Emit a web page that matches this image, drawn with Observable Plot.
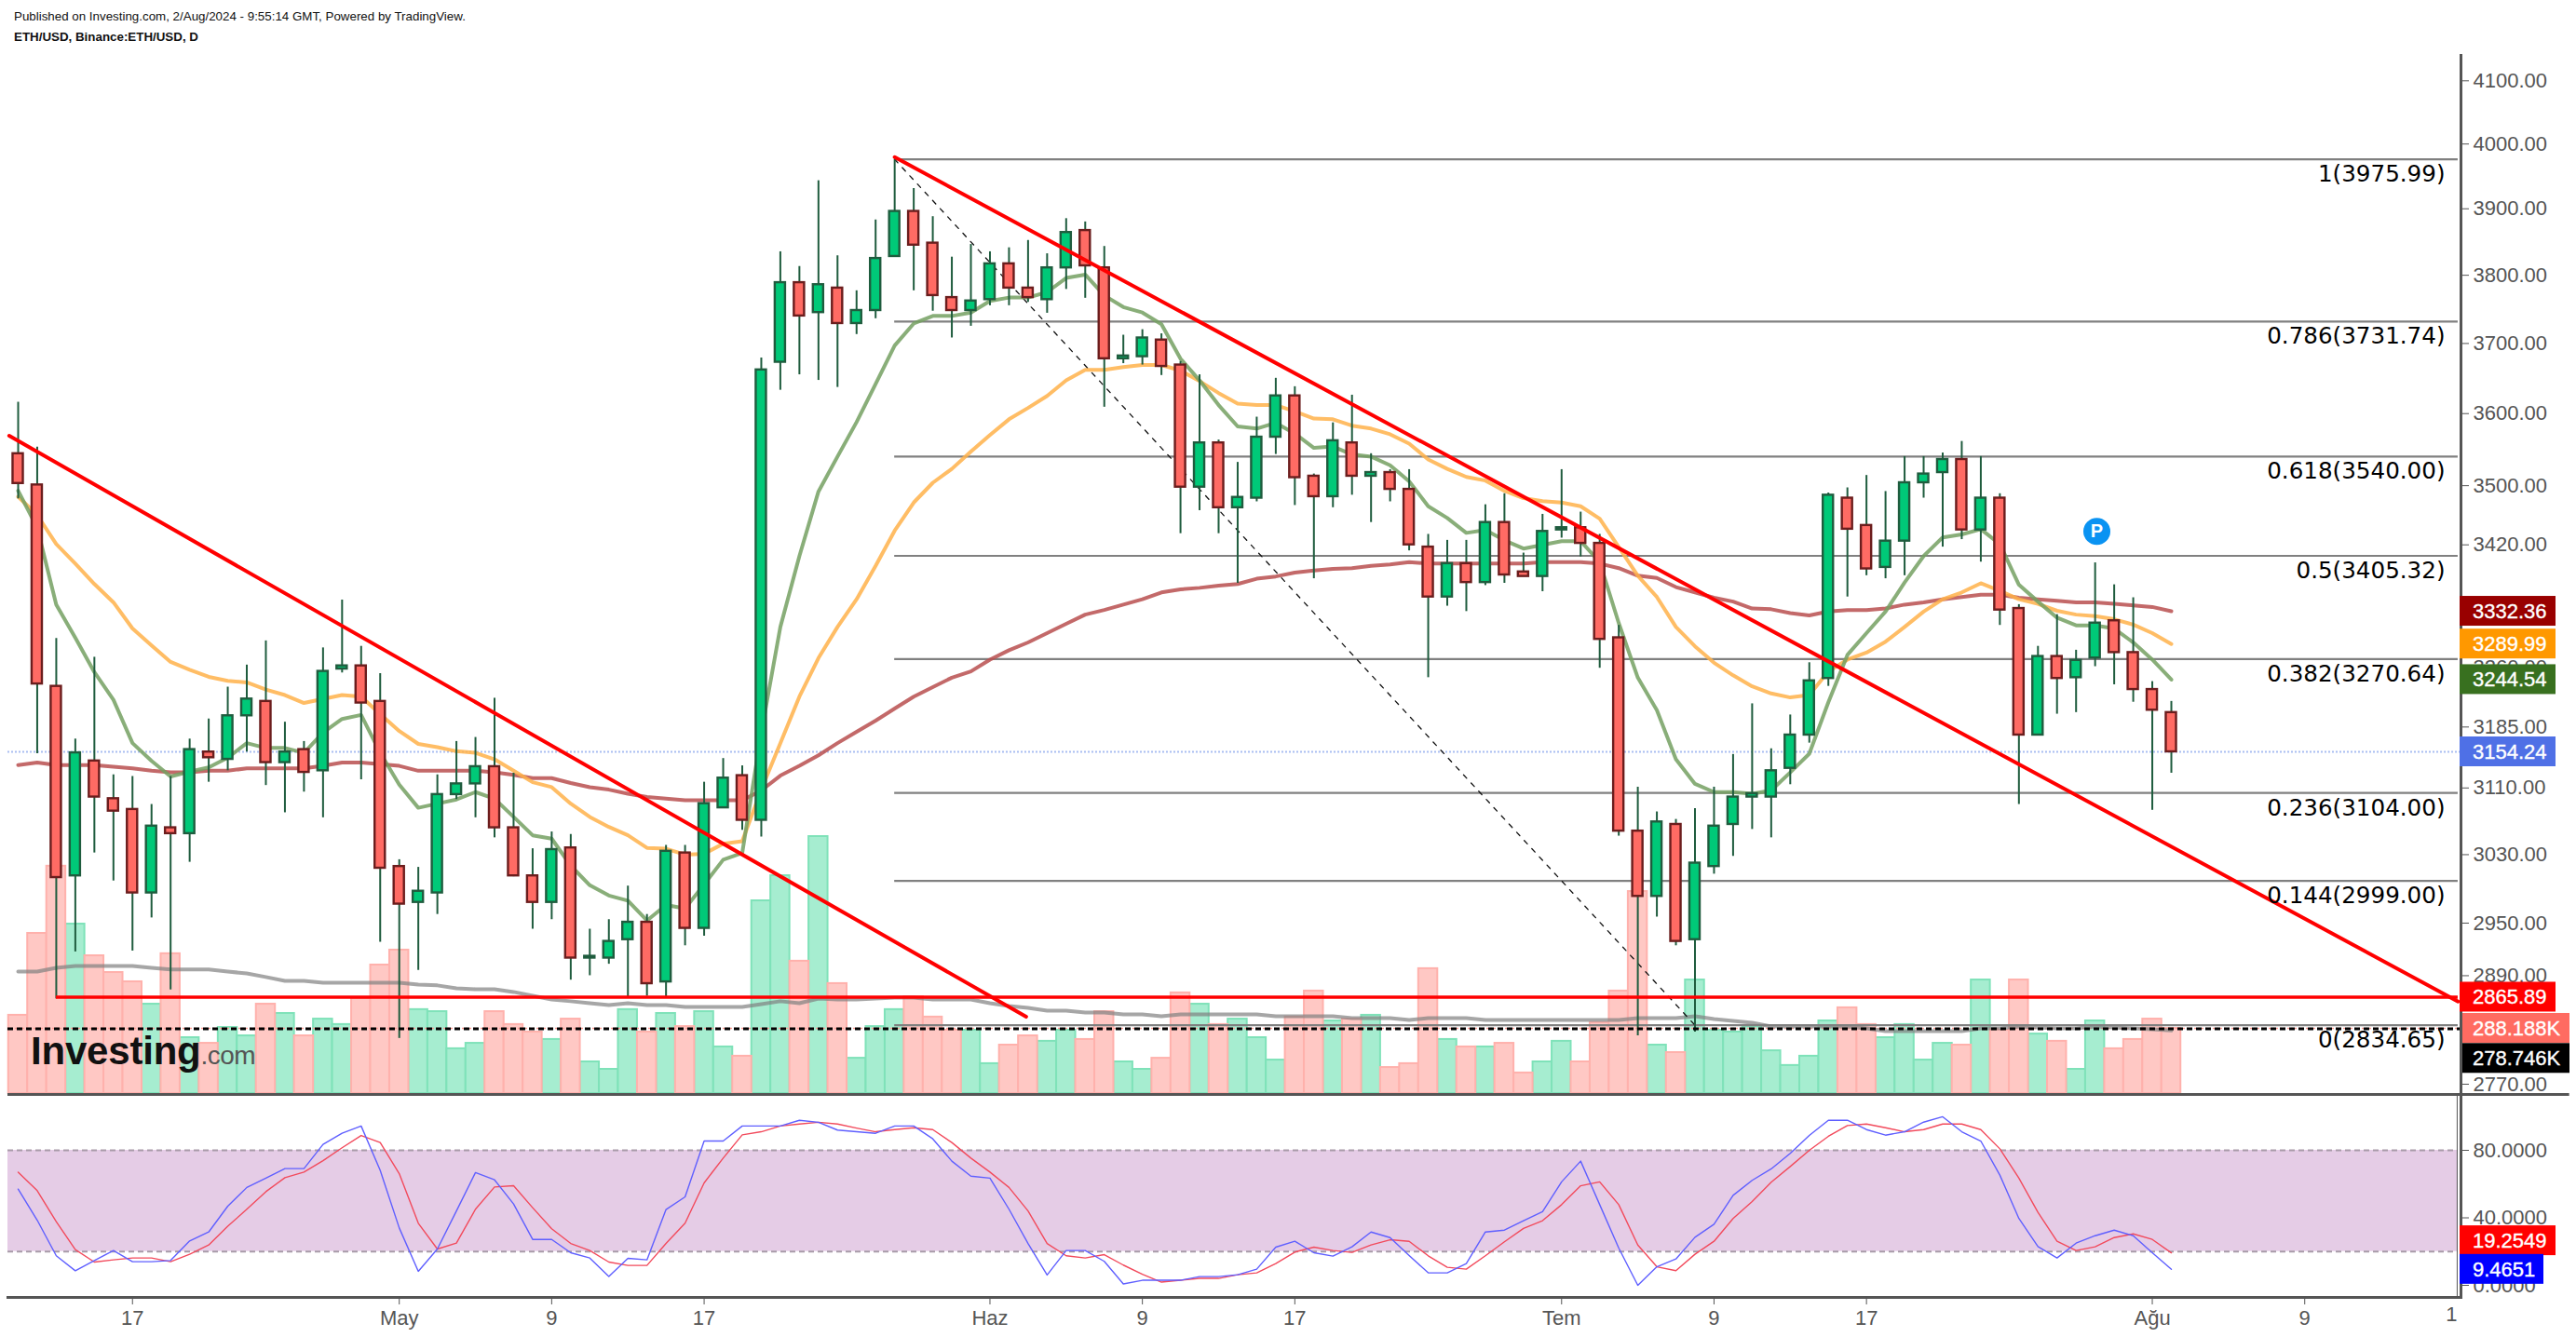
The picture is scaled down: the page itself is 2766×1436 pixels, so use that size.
<!DOCTYPE html>
<html lang="tr">
<head>
<meta charset="utf-8">
<title>ETH/USD</title>
<script src="https://cdn.jsdelivr.net/npm/d3@7"></script>
<script src="https://cdn.jsdelivr.net/npm/@observablehq/plot@0.6"></script>
<style>
  html, body { margin: 0; padding: 0; background: #fff; }
  #chart { position: relative; width: 2766px; height: 1436px; overflow: hidden; font-family: "Liberation Sans", Arial, sans-serif; }
  #chart svg { position: absolute; left: 0; overflow: visible; background: transparent; }
  .note { position: absolute; left: 15px; font-size: 13.35px; color: #111; white-space: nowrap; }
  #logo { position: absolute; left: 33px; top: 1100px; white-space: nowrap; color: #111; line-height: 58px; }
  #logo b { font-size: 42px; letter-spacing: -0.2px; }
  #logo span { font-size: 28px; color: #555; letter-spacing: -0.6px; }
</style>
</head>
<body>
<div id="chart">
  <div class="note" style="top:10px">Published on Investing.com, 2/Aug/2024 - 9:55:14 GMT, Powered by TradingView.</div>
  <div class="note" style="top:32px;font-weight:bold">ETH/USD, Binance:ETH/USD, D</div>
</div>
<script>
const open = [3544,3501,3236,3005,3143,3097,3084,2985,3062,3055,
3154,3145,3199,3217,3141,3157,3131,3258,3262,3217,
3016,2974,2985,3102,3115,3136,3062,3005,2974,3038,
2910,2910,2931,2951,2883,3032,2944,3086,3125,3071,
3673,3789,3745,3781,3729,3748,3828,3896,3848,3767,
3748,3764,3817,3781,3764,3811,3867,3811,3678,3681,
3705,3669,3498,3559,3470,3483,3567,3625,3513,3485,
3559,3513,3518,3495,3417,3351,3395,3370,3450,3384,
3378,3440,3443,3422,3298,3058,2981,3066,2931,3016,
3066,3099,3099,3134,3175,3246,3483,3446,3390,3425,
3504,3518,3536,3440,3483,3336,3175,3274,3247,3272,
3320,3279,3232,3203];
const high = [3616,3553,3297,3170,3273,3126,3124,3090,3124,3170,
3195,3235,3263,3294,3191,3167,3285,3347,3287,3252,
3024,3015,3126,3167,3172,3221,3128,3037,3057,3054,
2943,2954,2993,2960,3041,3041,3117,3146,3137,3679,
3835,3813,3943,3829,3777,3883,3975.99,3931,3888,3827,
3846,3835,3841,3852,3832,3885,3880,3843,3712,3720,
3714,3674,3655,3563,3532,3595,3650,3638,3516,3587,
3626,3544,3522,3522,3434,3426,3426,3474,3489,3409,
3461,3522,3464,3434,3314,3111,3081,3072,3085,3111,
3151,3214,3158,3200,3266,3490,3497,3514,3492,3540,
3540,3545,3561,3540,3489,3341,3287,3328,3282,3396,
3367,3350,3242,3217];
const low = [3482,3152,2864,2917,3032,2999,2918,2956,2874,3021,
3117,3131,3154,3113,3080,3105,3074,3253,3120,2928,
2820,2896,2960,3096,3074,3050,3004,2943,2954,2885,
2890,2903,2865,2867,2865,2924,2935,3086,3059,3051,
3633,3655,3647,3637,3713,3736,3828,3777,3747,3708,
3725,3755,3755,3760,3744,3779,3766,3609,3671,3669,
3654,3435,3466,3435,3369,3478,3543,3473,3375,3470,
3487,3450,3478,3412,3247,3339,3332,3366,3369,3378,
3358,3429,3404,3259,3052,2823,2957,2924,2827,3007,
3028,3060,3050,3114,3165,3236,3351,3379,3375,3379,
3483,3417,3427,3397,3314,3090,3175,3201,3203,3261,
3238,3216,3083,3128];
const close = [3503,3239,3003,3153,3099,3082,2985,3064,3055,3157,
3147,3199,3220,3141,3154,3129,3255,3262,3215,3014,
2972,2987,3102,3115,3136,3062,3005,2974,3036,2910,
2912,2929,2951,2881,3034,2944,3091,3122,3071,3662,
3789,3740,3786,3729,3748,3825,3896,3845,3770,3748,
3762,3817,3781,3767,3811,3864,3814,3678,3682,3708,
3667,3498,3559,3470,3484,3567,3625,3511,3485,3562,
3513,3518,3495,3420,3351,3395,3370,3450,3380,3378,
3438,3443,3422,3296,3058,2981,3069,2929,3020,3064,
3099,3103,3131,3175,3243,3487,3441,3388,3425,3504,
3516,3536,3440,3483,3334,3175,3274,3246,3269,3317,
3279,3232,3206,3154.24];
const volume = [346,708,1005,749,609,535,494,395,618,247,
222,292,255,395,354,255,329,305,420,568,
634,371,362,198,222,362,305,272,239,329,
140,107,371,272,354,296,362,206,165,852,
963,585,1136,486,156,296,371,428,338,280,
280,132,214,255,231,280,239,362,140,107,
156,445,395,305,329,247,148,338,453,321,
329,346,115,132,552,239,206,206,222,91,
140,231,140,313,453,893,214,181,502,280,
272,296,189,124,165,321,379,305,247,305,
148,222,214,502,280,502,263,231,107,321,
198,239,329,288.188];
const volumeMA = [539,539,556,564,564,564,564,556,548,548,
548,539,531,515,498,498,490,490,490,490,
490,482,478,465,461,461,449,432,416,408,
399,391,399,391,391,383,383,383,383,395,
408,399,420,416,416,420,424,424,416,416,
416,399,387,379,366,366,358,358,350,350,
342,350,350,350,350,350,342,342,342,342,
333,333,333,325,333,333,333,325,325,325,
325,325,325,325,325,333,333,333,342,329,
321,313,296,296,296,296,296,288,276,276,
276,276,276,288,288,296,292,288,288,296,
292,288,284,278.746];
const maGreen = [3493,3443,3341,3298,3254,3219,3165,3143,3124,3130,
3135,3147,3165,3159,3159,3153,3178,3195,3200,3153,
3114,3086,3091,3096,3105,3097,3075,3053,3049,3017,
2994,2982,2976,2953,2971,2967,2995,3024,3032,3178,
3312,3405,3492,3540,3588,3642,3697,3729,3740,3740,
3745,3762,3767,3767,3775,3796,3801,3770,3753,3745,
3728,3678,3647,3612,3582,3579,3587,3572,3552,3554,
3543,3540,3528,3506,3472,3456,3436,3440,3426,3415,
3420,3425,3425,3397,3317,3247,3206,3145,3115,3105,
3105,3103,3107,3129,3152,3216,3276,3304,3332,3370,
3405,3430,3434,3441,3421,3367,3345,3324,3314,3314,
3310,3292,3270,3244.54];
const maOrange = [3485,3460,3421,3395,3368,3344,3310,3288,3267,3257,
3248,3243,3241,3232,3225,3215,3220,3225,3223,3201,
3180,3164,3160,3155,3153,3145,3131,3117,3111,3091,
3075,3063,3053,3038,3037,3030,3031,3043,3046,3108,
3165,3223,3272,3312,3348,3392,3439,3477,3504,3523,
3547,3570,3592,3608,3625,3647,3662,3662,3666,3669,
3669,3661,3646,3629,3614,3612,3612,3603,3593,3592,
3583,3579,3571,3558,3536,3523,3512,3507,3493,3483,
3479,3477,3472,3455,3417,3379,3351,3312,3287,3266,
3250,3236,3227,3222,3225,3255,3270,3279,3293,3312,
3332,3348,3357,3369,3359,3348,3342,3333,3328,3326,
3322,3315,3304,3289.99];
const maRed = [3138,3141,3138,3138,3138,3136,3134,3131,3129,3129,
3131,3131,3134,3134,3134,3134,3137,3141,3141,3139,
3137,3131,3131,3131,3131,3129,3126,3122,3122,3116,
3111,3108,3103,3099,3097,3095,3095,3095,3095,3107,
3125,3137,3150,3165,3179,3193,3208,3223,3235,3247,
3255,3270,3282,3292,3304,3316,3328,3334,3341,3348,
3357,3361,3363,3366,3368,3375,3378,3383,3386,3388,
3389,3392,3394,3397,3395,3395,3395,3395,3395,3395,
3397,3397,3397,3395,3389,3379,3376,3364,3357,3350,
3345,3336,3335,3330,3327,3332,3334,3334,3336,3341,
3344,3348,3351,3354,3354,3350,3348,3346,3344,3344,
3342,3340,3338,3332.36];
const stochK = [57.0,38.6,17.5,8.6,14.7,20.6,14.0,14.0,14.7,26.3,
31.6,46.9,58.0,63.5,69.2,69.2,83.5,90.1,94.4,68.1,
34.0,8.3,21.5,44.1,66.8,62.5,48.2,27.2,27.2,19.3,
16.2,5.2,16.0,15.1,44.9,52.4,85.5,85.5,94.4,94.4,
94.4,97.8,96.6,92.0,91.0,90.1,94.4,94.4,86.8,73.6,
64.7,63.5,45.1,24.8,6.1,20.6,20.6,14.2,0.8,3.0,
3.0,3.0,5.2,5.2,6.3,9.6,22.6,26.1,19.3,17.3,
22.8,31.6,28.3,17.7,7.4,7.4,12.9,31.6,32.7,38.3,
43.6,61.3,73.6,47.8,22.1,0,11.0,15.6,28.5,36.2,
53.3,62.2,69.0,78.2,88.8,97.8,97.8,92.3,89.0,91.0,
96.7,99.9,91.0,85.5,65.3,39.6,23.0,16.2,25.0,29.4,
32.7,29.4,19.3,9.4651];
const stochD = [67.1,56.1,37.7,21.2,13.8,15.1,16.2,16.2,14.0,18.4,
23.9,35.0,45.1,55.5,63.8,67.1,73.9,81.5,88.8,84.6,
66.2,36.8,21.5,25.0,45.1,58.3,59.0,46.0,33.5,24.8,
20.6,13.8,11.8,11.8,24.8,36.8,60.7,75.4,89.2,91.0,
94.4,95.6,96.6,95.6,93.2,91.0,92.3,93.4,92.3,84.6,
75.4,67.1,58.0,44.1,24.8,17.5,16.2,18.2,12.0,6.5,
1.9,3.0,4.1,4.1,6.3,7.4,12.9,19.7,22.6,20.6,
19.5,23.9,27.0,26.1,17.5,10.7,9.6,17.5,25.8,33.7,
38.3,47.8,59.0,61.3,47.8,23.9,11.0,8.7,18.4,26.1,
39.6,49.7,61.1,70.4,80.0,88.3,94.7,95.6,93.4,91.0,
92.3,95.6,95.6,92.3,80.9,63.5,43.2,26.1,20.6,22.8,
28.3,30.5,27.2,19.2549];
const fibPrices = [3975.99,3731.74,3540,3405.32,3270.64,3104,2999,2834.65];
const fibLabels = ["1(3975.99)","0.786(3731.74)","0.618(3540.00)","0.5(3405.32)","0.382(3270.64)","0.236(3104.00)","0.144(2999.00)","0(2834.65)"];
const priceTicks = [4100,4000,3900,3800,3700,3600,3500,3420,3260,3185,3110,3030,2950,2890,2770];
const stochTicks = [80,40,0];
const dateTickIndex = [6,20,28,36,51,59,67,81,89,97,112,120];
const dateTickLabels = ["17","May","9","17","Haz","9","17","Tem","9","17","Ağu","9"];
const clippedTickIndex = [128];
const clippedTickLabels = ["1"];
const trendA = [{i:-0.47,p:3569},{i:52.9,p:2844}];
const trendB = [{i:46,p:3979.5},{i:128.05,p:2861}];
const fibDiagonal = [{i:46,p:3975.99},{i:88,p:2834.65}];
const supportPrice = 2865.89, supportStart = 2;
const dashedPrice = 2830.5;
const lastClose = 3154.24;

const W = 2766;
const xMin = -0.5376, xMax = 128.2, lineEnd = 128.05, fibStart = 46, fibTextX = 127.37;
const FONT = '"Liberation Sans", Arial, sans-serif';
const UP = "#00c978", DOWN = "#ff6b64", UPB = "#1f5c3e", DOWNB = "#6b1d1d", WICK = "#1f5c3e";
const AXIS = "#555555";
const x = {type:"linear", domain:[xMin,xMax]};
const idx = d3.range(open.length);
const candles = idx.map(i => ({i,o:open[i],h:high[i],l:low[i],c:close[i],v:volume[i]}));
const ups = candles.filter(d => d.c >= d.o), downs = candles.filter(d => d.c < d.o);
const series = arr => arr.map((v,i) => ({i,v}));
const base = {width:W, marginLeft:8, marginRight:124, style:{fontFamily:FONT, background:"transparent", overflow:"visible"}};

function chips(list){
  return (index, scales) => {
    const g = d3.create("svg:g");
    const left = scales.x(xMax) - 1;
    for (const c of list) {
      const cy = scales.y(c.value) + (c.dy || 0);
      g.append("rect").attr("x",left).attr("y",cy-16).attr("width",c.w).attr("height",32).attr("fill",c.fill);
      g.append("text").attr("x",left+14).attr("y",cy).attr("dy","0.36em").attr("fill","#fff")
       .attr("text-anchor","start")
       .attr("font-family",FONT).attr("font-size",22).attr("stroke","#fff").attr("stroke-width",0.35).text(c.text);
    }
    return g.node();
  };
}

const priceY = {type:"log", domain:[2770,4100], range:[1164,86.3]};
const volumeY = {type:"linear", domain:[0,1136], range:[1174,898]};
const stochY = {type:"linear", domain:[0,80], range:[205,60]};

const volPlot = Plot.plot({...base, height:1175, marginTop:58, marginBottom:0, x, y:volumeY,
  marks:[
    Plot.rect(ups,{x1:d=>d.i-0.5,x2:d=>d.i+0.5,y1:0,y2:"v",fill:"#a6edd0",stroke:"#7fe2b9",strokeWidth:2}),
    Plot.rect(downs,{x1:d=>d.i-0.5,x2:d=>d.i+0.5,y1:0,y2:"v",fill:"#ffc8c4",stroke:"#ffb1ac",strokeWidth:2}),
    Plot.ruleY([volume[volume.length-1]],{stroke:"#ff9a92",strokeWidth:1.5,strokeDasharray:"2,2"}),
    Plot.line(series(volumeMA),{x:"i",y:"v",stroke:"#808080",strokeOpacity:0.7,strokeWidth:4}),
    Plot.axisY({ticks:[],label:null}),
    Plot.axisX({ticks:[],label:null}),
    chips([
      {value:volume[volume.length-1],text:"288.188K",fill:"#ff6b61",w:118},
      {value:volumeMA[volumeMA.length-1],text:"278.746K",fill:"#000000",w:118,dy:30}
    ])
  ]});
volPlot.style.top = "0px";

const lineMark = (arr,color,extra={}) => Plot.line(series(arr),{x:"i",y:"v",stroke:color,strokeWidth:4,strokeOpacity:0.85,...extra});
const pricePlot = Plot.plot({...base, height:1175, marginTop:58, marginBottom:0, x, y:priceY,
  marks:[
    Plot.ruleY([lastClose],{stroke:"#a9bdf2",strokeWidth:2,strokeDasharray:"2,2"}),
    Plot.ruleY(fibPrices,{x1:fibStart,x2:lineEnd,stroke:"#808080",strokeWidth:2.2}),
    Plot.line(fibDiagonal,{x:"i",y:"p",stroke:"#111",strokeWidth:1.3,strokeDasharray:"5,7"}),
    lineMark(maRed,"#b84f4f"),
    lineMark(maOrange,"#ffb24a"),
    lineMark(maGreen,"#74a062"),
    Plot.ruleX(candles,{x:"i",y1:"l",y2:"h",stroke:WICK,strokeWidth:2}),
    Plot.rect(ups,{x1:d=>d.i-0.27,x2:d=>d.i+0.27,y1:"o",y2:"c",fill:UP,stroke:UPB,strokeWidth:2.4}),
    Plot.rect(downs,{x1:d=>d.i-0.27,x2:d=>d.i+0.27,y1:"o",y2:"c",fill:DOWN,stroke:DOWNB,strokeWidth:2.4}),
    Plot.ruleY([dashedPrice],{stroke:"#000",strokeWidth:3,strokeDasharray:"6,4"}),
    Plot.ruleY([supportPrice],{x1:supportStart,x2:lineEnd,stroke:"#ff0000",strokeWidth:3.5}),
    Plot.line(trendA,{x:"i",y:"p",stroke:"#ff0000",strokeWidth:4}),
    Plot.line(trendB,{x:"i",y:"p",stroke:"#ff0000",strokeWidth:4}),
    Plot.text(fibPrices,{x:fibTextX,y:d=>d,text:(d,i)=>fibLabels[i],textAnchor:"end",dy:16,fontSize:24.6,fontFamily:'"DejaVu Sans"',fill:"#000"}),
    Plot.dot([3438],{x:()=>109.09,y:d=>d,r:14.5,fill:"#0a93f2"}),
    Plot.text([3438],{x:()=>109.09,y:d=>d,text:()=>"P",fill:"#fff",fontSize:20,fontWeight:"bold"}),
    Plot.ruleX([xMax],{stroke:AXIS,strokeWidth:3}),
    Plot.axisY({anchor:"right",ticks:priceTicks,tickFormat:d=>d.toFixed(2),tickSize:8,tickPadding:5,fontSize:22,color:AXIS,label:null}),
    Plot.axisX({ticks:[],label:null}),
    chips([
      {value:maRed[113],text:"3332.36",fill:"#990000",w:103},
      {value:maOrange[113],text:"3289.99",fill:"#ff9800",w:103},
      {value:maGreen[113],text:"3244.54",fill:"#38701f",w:103},
      {value:lastClose,text:"3154.24",fill:"#4f70e6",w:103},
      {value:supportPrice,text:"2865.89",fill:"#ff0000",w:103}
    ])
  ]});
pricePlot.style.top = "0px";

const stochPlot = Plot.plot({...base, height:261, marginTop:0, marginBottom:43, x, y:stochY,
  marks:[
    Plot.rect([0],{x1:xMin,x2:lineEnd,y1:20,y2:80,fill:"#e5cce6"}),
    Plot.ruleY([20,80],{x1:xMin,x2:lineEnd,stroke:"#a89aa8",strokeWidth:2,strokeDasharray:"6,4"}),
    Plot.line(series(stochD),{x:"i",y:"v",stroke:"#f24a5c",strokeWidth:1.4}),
    Plot.line(series(stochK),{x:"i",y:"v",stroke:"#5f5fff",strokeWidth:1.4}),
    Plot.frame({anchor:"bottom",stroke:AXIS,strokeWidth:3}),
    Plot.ruleX([xMax],{stroke:AXIS,strokeWidth:3}),
    Plot.ruleY([113.1],{x1:xMin,x2:133.9,stroke:AXIS,strokeWidth:3}),
    Plot.axisY({anchor:"right",ticks:stochTicks,tickFormat:d=>d.toFixed(4),tickSize:8,tickPadding:5,fontSize:22,color:AXIS,label:null}),
    Plot.axisX({anchor:"bottom",ticks:dateTickIndex,tickFormat:(d)=>dateTickLabels[dateTickIndex.indexOf(d)],tickSize:8,tickPadding:6,fontSize:22,color:AXIS,label:null}),
    Plot.tickX(clippedTickIndex,{x:d=>d,y1:-7.2,y2:-11.6,stroke:AXIS}),
    Plot.text(clippedTickLabels,{x:()=>clippedTickIndex[0],y:()=>-12.4,text:d=>d,dx:-6,lineAnchor:"top",fontSize:22,fill:AXIS}),
    chips([
      {value:stochD[113],text:"19.2549",fill:"#ff0000",w:103,dy:-13},
      {value:stochK[113],text:"9.4651",fill:"#0000ff",w:90}
    ])
  ]});
stochPlot.style.top = "1175px";

const chart = document.getElementById("chart");
chart.append(volPlot);
const logo = document.createElement("div");
logo.id = "logo";
logo.innerHTML = "<b>Investing</b><span>.com</span>";
chart.append(logo, pricePlot, stochPlot);
</script>
</body>
</html>
